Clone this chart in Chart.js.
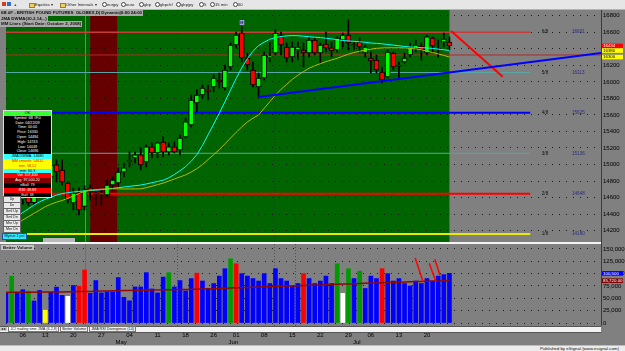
<!DOCTYPE html>
<html lang="en">
<head>
<meta charset="UTF-8">
<title>6B #F - British Pound Futures</title>
<script src="https://cdn.jsdelivr.net/npm/chart.js"></script>
<style>
  html, body { margin: 0; padding: 0; }
  body { width: 625px; height: 351px; background: #808080; position: relative; overflow: hidden;
         font-family: "Liberation Sans", Arial, sans-serif; }
  #chart { position: absolute; left: 0; top: 0; }
  .abs { position: absolute; white-space: nowrap; }
  #tb { left: 0; top: 0; width: 625px; height: 9px; background: #e6e6e6; border-bottom: 1px solid #b4b4b4; font-size: 4.2px; color: #222; }
  #tb span { position: absolute; top: 2.3px; }
  #tb i { position: absolute; top: 2px; width: 4px; height: 4px; }
  #tb i.r { border: 0.6px solid #444; border-radius: 50%; width: 3px; height: 3px; background: #fff; }
  #tb i.f { background: #f0d060; border: 0.5px solid #a08020; height: 3px; top: 2.5px; }
  .title { left: 0; font-size: 4.4px; font-weight: bold; color: #111; background: #a9a9a9; height: 5.6px; line-height: 5.6px; padding: 0 1px; }
  #dw { left: 3px; top: 110px; width: 47px; font-size: 3.7px; line-height: 4.8px; text-align: center; border: 0.5px solid #ddd; }
  #dw div { height: 4.8px; }
  .btn { left: 3px; width: 16px; height: 5.4px; line-height: 5.4px; font-size: 3.6px; background: #e8e8e8; border: 0.5px solid #666; color: #111; text-align: center; }
  #tabs { left: 0; top: 326px; width: 601px; height: 5px; background: #f2f2f2; border-top: 0.5px solid #555; border-bottom: 0.5px solid #555; font-size: 3.8px; line-height: 5px; color: #111; }
  #foot { left: 0; top: 345px; width: 625px; height: 6px; background: #ececec; border-top: 0.5px solid #bbb; font-size: 4.4px; line-height: 6px; color: #111; text-align: right; }
</style>
</head>
<body>
<canvas id="chart" width="625" height="351"></canvas>

<div id="tb" class="abs">
  <i style="left:2px;background:#d04020;"></i><i style="left:7px;background:#3070c0;"></i>
  <span style="left:14px;font-weight:bold;">+</span>
  <i class="f" style="left:29px"></i><span style="left:35px">Equities ▾</span>
  <i class="f" style="left:60px"></i><span style="left:66px">Other Intervals ▾</span>
  <i class="r" style="left:102px"></i><span style="left:107px">eurjpy</span>
  <i class="r" style="left:121px"></i><span style="left:126px">euro</span>
  <i class="r" style="left:139px"></i><span style="left:144px">gbp</span>
  <i class="r" style="left:155px"></i><span style="left:160px">gbpchf</span>
  <i class="r" style="left:176px"></i><span style="left:181px">gbpjpy</span>
  <i class="r" style="left:199px"></i><span style="left:204px">5</span>
  <i class="r" style="left:210px"></i><span style="left:215px">15 min</span>
  <i class="r" style="left:233px"></i><span style="left:238px">60</span>
</div>

<div class="abs title" style="top:10px">6B #F - BRITISH POUND FUTURES &nbsp;GLOBEX,D| Dynamic|0:00 24:00</div>
<div class="abs title" style="top:15.6px">JMA DWMA(30,2,14,..)</div>
<div class="abs title" style="top:21.2px">MM Lines (Start Date: October 2, 2008)</div>

<div id="dw" class="abs"></div>

<div class="abs btn" style="top:196px">Up</div>
<div class="abs btn" style="top:202px">Dn</div>
<div class="abs btn" style="top:208px">Sml Up</div>
<div class="abs btn" style="top:214px">Sml Dn</div>
<div class="abs btn" style="top:220px">Mre Up</div>
<div class="abs btn" style="top:226px">Mre Dn</div>
<div class="abs btn" style="top:233px;left:2px;width:23px;background:#30e8ff;border-color:#2050a0;">Mytrue 1 pst</div>
<div class="abs" style="left:43px;top:238px;width:32px;height:4px;background:#b9b9b9;"></div>

<div class="abs" style="left:1px;top:244.5px;height:5.5px;line-height:5.5px;padding:0 2px;background:#c4c4c4;font-size:4.4px;font-weight:bold;color:#111;">Better Volume</div>

<div id="tabs" class="abs">
  <span style="background:#ccc;padding:0 1px;">◂ ▸</span>
  <span style="border:0.5px solid #777;padding:0 1px;background:#fff;">JCI trading time JMA (6,2,8)</span>
  <span style="border:0.5px solid #777;padding:0 1px;">Better Volume</span>
  <span style="border:0.5px solid #777;padding:0 1px;">JMA RSI Divergence (14)</span>
</div>
<div id="foot" class="abs"><span style="padding-right:6px">Published by eSignal (www.esignal.com)</span></div>

<script>
// daily bars, 2009
const dates = ['04/01','04/02','04/03','04/06','04/07','04/08','04/09','04/13','04/14','04/15',
  '04/16','04/17','04/20','04/21','04/22','04/23','04/24','04/27','04/28','04/29',
  '04/30','05/01','05/04','05/05','05/06','05/07','05/08','05/11','05/12','05/13',
  '05/14','05/15','05/18','05/19','05/20','05/21','05/22','05/26','05/27','05/28',
  '05/29','06/01','06/02','06/03','06/04','06/05','06/08','06/09','06/10','06/11',
  '06/12','06/15','06/16','06/17','06/18','06/19','06/22','06/23','06/24','06/25',
  '06/26','06/29','06/30','07/01','07/02','07/06','07/07','07/08','07/09','07/10',
  '07/13','07/14','07/15','07/16','07/17','07/20','07/21','07/22','07/23','07/24'];

const open = [14480,14660,14800,14580,14640,14540,14660,14900,14850,14995,
  14934,14777,14535,14656,14494,14717,14655,14640,14632,14753,
  14777,14910,15031,15080,15116,15031,15213,15140,15273,15152,
  15213,15176,15334,15479,15745,15841,15900,15938,16020,15926,
  16180,16446,16591,16289,16143,15938,16047,16300,16349,16567,
  16422,16301,16385,16385,16349,16506,16349,16458,16410,16385,
  16506,16567,16450,16482,16349,16289,16264,16119,16059,16349,
  16200,16240,16325,16410,16434,16349,16530,16400,16482,16482];
const high = [14700,14850,14840,14700,14720,14700,14950,14980,15020,15055,
  15055,14789,14717,14717,14743,14753,14668,14692,14813,14850,
  14959,15019,15152,15152,15200,15237,15261,15273,15334,15261,
  15273,15358,15563,15841,15902,15962,15962,16083,16107,16204,
  16470,16603,16663,16349,16240,16107,16361,16482,16627,16603,
  16470,16482,16482,16470,16543,16530,16470,16603,16482,16543,
  16591,16748,16482,16530,16446,16361,16325,16180,16385,16361,
  16240,16349,16470,16506,16470,16567,16543,16506,16591,16543];
const low = [14440,14620,14580,14520,14500,14510,14620,14800,14830,14789,
  14753,14535,14451,14390,14449,14571,14511,14511,14610,14692,
  14730,14850,14971,15019,14934,14971,15080,15080,15092,15116,
  15140,15116,15321,15455,15636,15805,15781,15878,15926,15902,
  16143,16410,16240,16143,15938,15817,16023,16240,16325,16325,
  16240,16240,16264,16180,16301,16325,16228,16361,16301,16361,
  16422,16385,16385,16361,16301,16107,16107,15986,16047,16143,
  16047,16228,16301,16361,16264,16325,16361,16301,16422,16385];
const close = [14660,14800,14600,14640,14540,14660,14900,14850,14990,14910,
  14789,14571,14656,14451,14696,14668,14640,14650,14753,14813,
  14910,14959,15055,15116,14995,15213,15140,15261,15152,15213,
  15152,15321,15515,15781,15841,15926,15885,16047,16000,16143,
  16446,16567,16289,16204,15962,16047,16325,16310,16591,16446,
  16289,16422,16422,16349,16506,16349,16446,16410,16373,16530,
  16567,16470,16440,16422,16422,16252,16143,16023,16361,16180,
  16190,16289,16422,16446,16385,16543,16434,16385,16518,16434];

// JMA DWMA study: fast (cyan) and slow (olive) lines
const jmaFast = [14270,14310,14370,14420,14465,14510,14550,14580,14605,14630,
  14648,14660,14668,14675,14680,14685,14690,14696,14703,14712,
  14720,14728,14736,14744,14752,14765,14780,14795,14810,14840,
  14880,14925,14975,15040,15120,15230,15360,15490,15620,15760,
  15900,16040,16170,16280,16370,16440,16480,16515,16535,16548,
  16556,16560,16558,16552,16546,16540,16535,16528,16520,16510,
  16500,16495,16490,16485,16478,16470,16465,16460,16452,16444,
  16436,16428,16422,16418,16414,16410,16404,16396,16388,16380];
const jmaSlow = [14190,14230,14280,14330,14370,14410,14450,14490,14520,14545,
  14565,14590,14620,14650,14675,14690,14697,14702,14705,14706,
  14706,14705,14705,14705,14706,14720,14738,14757,14775,14800,
  14825,14850,14875,14910,14950,15000,15060,15120,15180,15250,
  15320,15390,15455,15515,15560,15600,15680,15760,15840,15910,
  15970,16030,16080,16125,16165,16195,16220,16245,16265,16285,
  16310,16335,16355,16370,16385,16395,16405,16410,16412,16412,
  16412,16410,16405,16398,16388,16370,16355,16338,16320,16300];

// Better Volume
const volume = [62600,94600,62600,67400,64600,44600,66000,26000,62600,72600,
  56000,54000,76000,74600,107400,60000,86000,61000,63000,63000,
  92000,52000,45000,73000,73000,102000,69000,61000,93000,102000,
  73000,86000,65000,90000,101000,85000,70000,80000,95000,110000,
  130000,120000,100000,95000,90000,85000,100000,80000,110000,90000,
  85000,75000,80000,100000,90000,80000,85000,95000,80000,120000,
  60000,110000,90000,105000,70000,95000,90000,110000,100000,85000,
  90000,80000,75000,85000,80000,90000,85000,95000,98000,100500];
// b=blue, g=green, r=red, y=yellow, w=white
const volColor = ['b','g','b','b','g','b','b','y','b','b',
  'b','w','b','r','r','b','b','b','b','b',
  'b','b','b','b','b','b','b','b','b','g',
  'b','b','b','b','r','b','b','b','b','b',
  'g','r','b','b','b','b','b','b','b','b',
  'b','b','b','r','b','b','b','b','b','g',
  'w','g','b','g','b','b','b','r','b','b',
  'b','b','b','b','b','b','b','b','b','b'];
const volAvg = [62000,62100,62200,62300,62400,62500,62600,62700,62800,62900,
  63000,63200,63400,63600,63800,64000,64300,64600,64900,65200,
  65500,65800,66000,66200,66400,66600,66800,67000,67200,67400,
  67600,67800,68000,68300,68600,68900,69200,69600,70000,70400,
  70800,71200,71600,72000,72400,72800,73200,73600,74000,74400,
  74800,75200,75600,76000,76400,76800,77200,77600,78000,78400,
  78800,79200,79600,80000,80400,80800,81200,81600,82000,82400,
  82800,83200,83600,84000,84300,84600,84900,85200,85500,85720];

// Murrey Math lines
const mmLevels = [14160, 14648, 15136, 15625, 16113, 16601];
const mmNames = ['1/8', '2/8', '3/8', '4/8', '5/8', '6/8'];

// drawn trend lines: [barIndex, value]
const blueTrend = [[45, 15817], [106, 16349]];
const redTrend = [[79.3, 16615], [88.5, 16063]];
const volTrends = [
  [[72.9, 131800], [74.3, 83700]],
  [[75.4, 121000], [76.6, 83700]],
  [[76.4, 129000], [77.3, 97300]]
];
const alertPrice = 16325;

// axis ticks
const priceTicks = [14200,14400,14600,14800,15000,15200,15400,15600,15800,16000,16200,16400,16600,16800];
const volTicks = [0,25000,50000,75000,100000,125000,150000];
const weekTicks = ['04/06','04/13','04/20','04/27','05/04','05/11','05/18','05/26',
  '06/01','06/08','06/15','06/22','06/29','07/06','07/13','07/20'];
const monthStarts = ['05/01','06/01','07/01'];
const monthNames = ['May','Jun','Jul'];

const cursorDate = '04/22';
const bandFrom = '04/23', bandTo = '04/29';

// ---------------------------------------------------------------
const lastSlot = 106;               // empty slots to the right of the data
const cursorIdx = dates.indexOf(cursorDate);
const last = dates.length - 1;

// data window
(function () {
  const i = cursorIdx;
  const rows = [
    ['OK', '#33ff33', '#000'],
    ['Symbol: 6B #F,0', '#000', '#fff'],
    ['Date: ' + dates[i] + '/09', '#000', '#fff'],
    ['Time: 00:00', '#000', '#fff'],
    ['Price: 16330', '#000', '#fff'],
    ['Open: ' + open[i], '#000', '#fff'],
    ['High: ' + high[i], '#000', '#fff'],
    ['Low: ' + low[i], '#000', '#fff'],
    ['Close: ' + close[i], '#000', '#fff'],
    ['JMA DWMA: ' + jmaFast[i], '#33ffff', '#000'],
    ['MM smooth: 14832', '#ffff00', '#e02000'],
    ['mm: 58.12', '#ffff00', '#e02000'],
    ['mm: 60.3', '#33ffff', '#000'],
    ['Vol: ' + volume[i].toLocaleString('en-US'), '#ff0000', '#fff'],
    ['Avg: 97,000.20', '#800000', '#fff'],
    ['nBull: 79', '#000', '#fff'],
    ['RSI: 49.89', '#ff0000', '#fff'],
    ['Bull: 38', '#000', '#fff']
  ];
  document.getElementById('dw').innerHTML = rows.map(r =>
    `<div style="background:${r[1]};color:${r[2]}">${r[0]}</div>`).join('');
})();

const volPalette = { b: '#0000ff', g: '#009a00', r: '#ff0000', y: '#ffff00', w: '#ffffff' };
const pts = (arr) => arr.map((v, i) => ({ x: i, y: v }));
const seg = (p) => p.map(q => ({ x: q[0], y: q[1] }));
const line = (data, axis, color, width, order) => ({
  type: 'line', yAxisID: axis, data: data, borderColor: color, borderWidth: width,
  pointRadius: 0, tension: 0, order: order
});

const mmColors = ['#e8e800', '#ff0000', '#5aa5a5', '#0000ff', '#5aa5a5', '#c83c3c'];
const mmWidths = [2, 2, 1, 2, 1, 1.5];

const datasets = [];
mmLevels.forEach((lvl, k) => {
  datasets.push(line([{ x: 0, y: lvl }, { x: 93.4, y: lvl }], 'y', mmColors[k], mmWidths[k], 9));
});
datasets.push(line([{ x: 0, y: alertPrice }, { x: lastSlot, y: alertPrice }], 'y', '#b02a2a', 1, 9));

datasets.push({
  type: 'bar', yAxisID: 'y', grouped: false, order: 6,
  data: dates.map((d, i) => ({ x: i, y: [low[i], high[i]] })),
  backgroundColor: '#000', barThickness: 1
});
datasets.push({
  type: 'bar', yAxisID: 'y', grouped: false, order: 5,
  data: dates.map((d, i) => ({ x: i, y: [open[i], close[i]] })),
  backgroundColor: close.map((c, i) => c >= open[i] ? '#00ff00' : '#ff0000'),
  borderColor: '#000', borderWidth: 1, borderSkipped: false, barThickness: 5
});
datasets.push(line(pts(jmaSlow), 'y', '#b8b800', 1, 2));
datasets.push(line(pts(jmaFast), 'y', '#00ffff', 1, 2));
datasets.push(line(seg(blueTrend), 'y', '#0000ff', 2, 1));
datasets.push(line(seg(redTrend), 'y', '#ff0000', 2, 1));

datasets.push({
  type: 'bar', yAxisID: 'yv', grouped: false, order: 5,
  data: pts(volume),
  backgroundColor: volColor.map(c => volPalette[c]), barThickness: 4
});
datasets.push(line(pts(volAvg), 'yv', '#8b0a0a', 1.5, 2));
volTrends.forEach(t => datasets.push(line(seg(t), 'yv', '#ff0000', 1.5, 1)));

// x ticks: mondays + month captions
const xTicks = [];
weekTicks.forEach(d => xTicks.push({ value: dates.indexOf(d), label: d.slice(3) }));
monthStarts.forEach((d, k) => xTicks.push({ value: dates.indexOf(d) - 0.5, label: ['', monthNames[k]], month: true }));

const panels = {
  id: 'panels',
  beforeDraw(chart) {
    const { ctx, chartArea: a, scales: { x, y } } = chart;
    ctx.save();
    ctx.fillStyle = '#006400';
    ctx.fillRect(a.left, y.top, x.getPixelForValue(last) - a.left, y.bottom - y.top);
    const b0 = x.getPixelForValue(dates.indexOf(bandFrom));
    const b1 = x.getPixelForValue(dates.indexOf(bandTo) + 0.8);
    ctx.fillStyle = '#660000';
    ctx.fillRect(b0, y.top, b1 - b0, y.bottom - y.top);
    ctx.restore();
  },
  beforeDatasetsDraw(chart) {
    const { ctx, scales: { x, y, yv } } = chart;
    const cx = Math.round(x.getPixelForValue(cursorIdx)) + 0.5;
    ctx.save();
    ctx.lineWidth = 1;
    ctx.strokeStyle = '#7c7c7c';
    ctx.beginPath(); ctx.moveTo(cx, y.top); ctx.lineTo(cx, y.bottom); ctx.stroke();
    ctx.strokeStyle = '#ff3030';
    ctx.beginPath(); ctx.moveTo(cx, yv.top); ctx.lineTo(cx, yv.bottom); ctx.stroke();
    ctx.restore();
  },
  afterDraw(chart) {
    const { ctx, chartArea: a, scales: { x, y, yv } } = chart;
    ctx.save();
    // pane separator and axis line
    ctx.fillStyle = '#f4f4f4';
    ctx.fillRect(0, y.bottom - 1, a.right, 2);
    ctx.fillStyle = '#3a3a3a';
    ctx.fillRect(a.right, a.top, 1, a.bottom - a.top);

    // MM labels
    ctx.font = '4.6px "Liberation Sans"';
    ctx.textBaseline = 'middle';
    mmLevels.forEach((lvl, k) => {
      const py = y.getPixelForValue(lvl);
      ctx.fillStyle = '#111';
      ctx.textAlign = 'center';
      ctx.fillText(mmNames[k], a.right - 56, py);
      ctx.fillStyle = '#2a2a80';
      ctx.textAlign = 'left';
      ctx.fillText(String(lvl), a.right - 29, py);
    });

    // "H" marker over the swing high
    const hi = high.indexOf(Math.max(...high.slice(40, 60)));
    const hx = x.getPixelForValue(hi), hy = y.getPixelForValue(high[hi]);
    ctx.fillStyle = '#a0a0e0';
    ctx.fillRect(hx - 2, hy - 7, 4.5, 5);
    ctx.fillStyle = '#101060';
    ctx.textAlign = 'center';
    ctx.font = 'bold 4.4px "Liberation Sans"';
    ctx.fillText('H', hx + 0.2, hy - 4.4);

    // value boxes on the axes
    const box = (scale, val, text, bg, fg, minTop) => {
      let top = scale.getPixelForValue(val) - 2.3;
      if (minTop !== undefined && top < minTop) top = minTop;
      ctx.fillStyle = bg;
      ctx.fillRect(a.right + 1, top, 21, 4.6);
      ctx.fillStyle = fg;
      ctx.textAlign = 'left';
      ctx.font = '4.4px "Liberation Sans"';
      ctx.fillText(text, a.right + 2, top + 2.4);
      return top + 4.6;
    };
    let t = box(y, close[last], String(close[last]), '#ff0000', '#fff');
    t = box(y, jmaFast[last], String(jmaFast[last]), '#ffff00', '#000', t);
    box(y, jmaSlow[last], String(jmaSlow[last]), '#ffff00', '#000', t);
    t = box(yv, volume[last], volume[last].toLocaleString('en-US'), '#0000ff', '#fff');
    box(yv, volAvg[last], volAvg[last].toLocaleString('en-US', { minimumFractionDigits: 2 }), '#800000', '#fff', t);
    ctx.restore();
  }
};

Chart.defaults.font.family = '"Liberation Sans", Arial, sans-serif';
Chart.defaults.color = '#000';

new Chart(document.getElementById('chart').getContext('2d'), {
  type: 'bar',
  data: { datasets: datasets },
  options: {
    responsive: false,
    animation: false,
    devicePixelRatio: 1,
    layout: { padding: { top: 10, left: 6, right: 0, bottom: 6 } },
    plugins: { legend: { display: false }, tooltip: { enabled: false } },
    scales: {
      x: {
        type: 'linear', min: 0, max: lastSlot, offset: false,
        afterBuildTicks: s => { s.ticks = xTicks.map(t => ({ value: t.value, month: !!t.month })); },
        ticks: {
          autoSkip: false, maxRotation: 0, padding: 6, font: { size: 6 }, color: '#000',
          callback: v => { const t = xTicks.find(q => q.value === v); return t ? t.label : ''; }
        },
        grid: { drawTicks: false, lineWidth: 1, color: c => (c.tick && c.tick.month) ? 'rgba(40,40,40,0.55)' : 'transparent' },
        border: { display: false, dash: [1, 2] },
        afterFit: s => { s.height = 19; }
      },
      y: {
        type: 'linear', position: 'right', stack: 'panes', stackWeight: 233,
        min: 14051, max: 16869,
        afterBuildTicks: s => { s.ticks = priceTicks.map(v => ({ value: v })); },
        ticks: { autoSkip: false, padding: 2, font: { size: 6 }, color: '#000', callback: v => String(v) },
        grid: { drawTicks: false, color: 'rgba(0,0,0,0.8)' },
        border: { display: false, dash: [1, 6] },
        afterFit: s => { s.width = 24; }
      },
      yv: {
        type: 'linear', position: 'right', stack: 'panes', stackWeight: 83,
        min: -6000, max: 162000,
        afterBuildTicks: s => { s.ticks = volTicks.map(v => ({ value: v })); },
        ticks: { autoSkip: false, padding: 2, font: { size: 6 }, color: '#000', callback: v => v.toLocaleString('en-US') },
        grid: { drawTicks: false, color: 'rgba(0,0,0,0.8)' },
        border: { display: false, dash: [1, 6] },
        afterFit: s => { s.width = 24; }
      }
    }
  },
  plugins: [panels]
});
</script>
</body>
</html>
